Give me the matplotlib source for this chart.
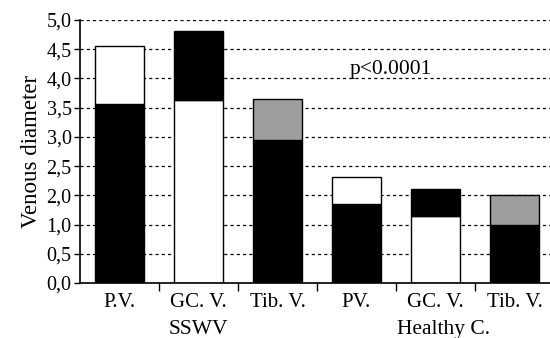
import matplotlib
matplotlib.use("Agg")
import matplotlib.pyplot as plt

# Data (in axis-position units; axis labels as printed in the original)
categories = ["P.V.", "GC. V.", "Tib. V.", "PV.", "GC. V.", "Tib. V."]
groups = ["SSWV", "Healthy C."]
lower_values = [3.07, 3.13, 2.44, 1.35, 1.15, 1.00]
total_values = [4.06, 4.32, 3.15, 1.82, 1.61, 1.51]
ytick_positions = [0.0, 0.5, 1.0, 1.5, 2.0, 2.5, 3.0, 3.5, 4.0, 4.5]
ytick_labels = ["0,0", "0,5", "1,0", "2,0", "2,5", "3,0", "3,5", "4,0", "4,5", "5,0"]
annotation = "p<0.0001"

lower_colors = ["black", "white", "black", "black", "white", "black"]
upper_colors = ["white", "black", "#9e9e9e", "white", "black", "#9e9e9e"]

plt.rcParams["font.family"] = ["Liberation Serif", "DejaVu Serif"]

fig = plt.figure(figsize=(5.5, 3.38), dpi=100)
ax = fig.add_axes([80/550, 55/338, 470/550, 263/338])

x = list(range(len(categories)))
upper = [t - l for t, l in zip(total_values, lower_values)]
ax.bar(x, lower_values, width=0.61, color=lower_colors, edgecolor="black", linewidth=1.0, zorder=2)
ax.bar(x, upper, bottom=lower_values, width=0.61, color=upper_colors, edgecolor="black", linewidth=1.0, zorder=2)

ax.set_xlim(-0.5, 5.45)
ax.set_ylim(0, 4.5)
ax.set_yticks(ytick_positions)
ax.set_yticklabels(ytick_labels, fontsize=14.5)
ax.yaxis.grid(True, linestyle=(0, (2.5, 2.5)), color="black", linewidth=0.9)
ax.set_axisbelow(True)

ax.set_xticks([0.5, 1.5, 2.5, 3.5, 4.5])
ax.set_xticklabels([])
ax.set_xticks(x, minor=True)
ax.set_xticklabels(categories, minor=True, fontsize=15)
ax.tick_params(axis="x", which="minor", length=0, pad=7)
ax.tick_params(axis="x", which="major", length=6, width=1, direction="out")
ax.tick_params(axis="y", length=4, width=1, pad=2)

for s in ["top", "right"]:
    ax.spines[s].set_visible(False)
ax.spines["left"].set_linewidth(1.2)
ax.spines["bottom"].set_linewidth(1.2)

ax.set_ylabel("Venous diameter", fontsize=16.5, labelpad=3)

ax.text(1, -0.175, groups[0], transform=ax.get_xaxis_transform(), ha="center", va="center", fontsize=15.5)
ax.text(4.1, -0.175, groups[1], transform=ax.get_xaxis_transform(), ha="center", va="center", fontsize=15.5)
ax.text(3.43, 3.65, annotation, ha="center", va="center", fontsize=15.5)

fig.savefig("out.png", dpi=100)
